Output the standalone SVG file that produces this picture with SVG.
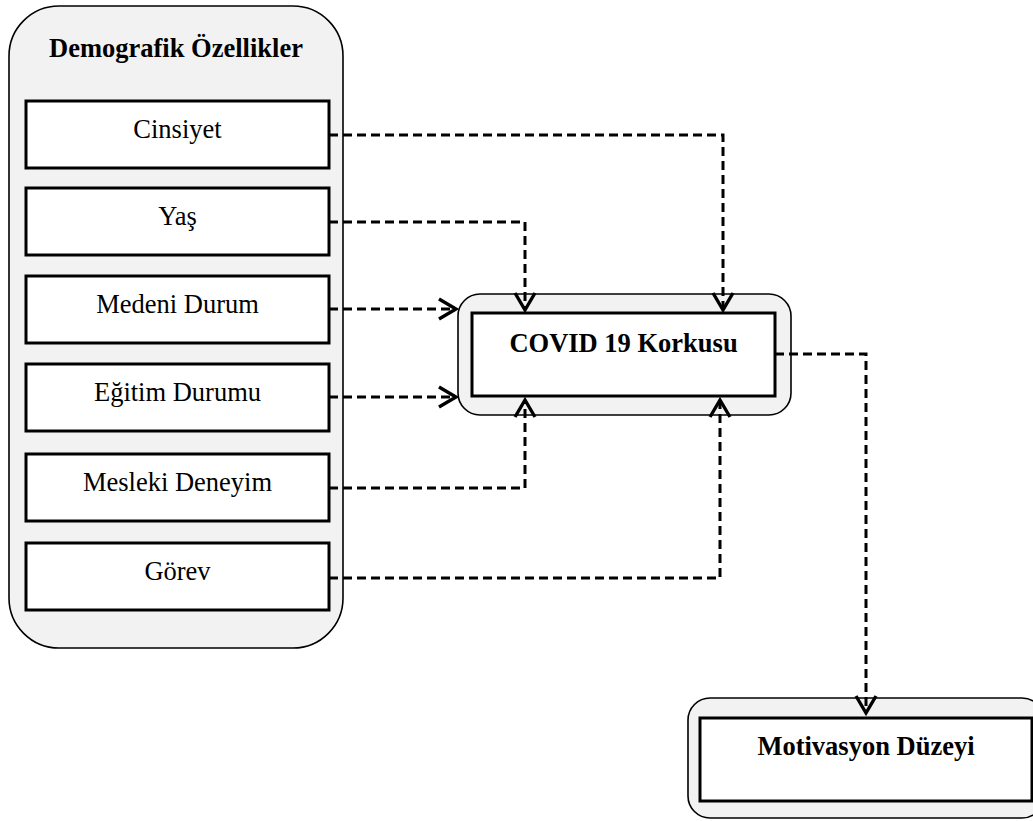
<svg xmlns="http://www.w3.org/2000/svg" width="1033" height="821" viewBox="0 0 1033 821">
<style>
.outer{fill:#f2f2f2;stroke:#000;stroke-width:1.6}
.inner{fill:#fff;stroke:#000;stroke-width:3}
.t{font-family:"Liberation Serif","Times New Roman",serif;font-size:26.5px;text-anchor:middle;fill:#000}
.b{font-weight:bold}
.c{fill:none;stroke:#000;stroke-width:3;stroke-dasharray:9 5;marker-end:url(#ah)}
</style>
<defs>
<marker id="ah" markerUnits="userSpaceOnUse" markerWidth="30" markerHeight="30" viewBox="-24 -15 30 30" refX="0" refY="0" orient="auto" overflow="visible">
<path d="M-17,-10 L0,0 L-17,10" fill="none" stroke="#000" stroke-width="3.4" stroke-linejoin="miter"/>
</marker>
</defs>
<rect width="1033" height="821" fill="#fff"/>
<g id="demografik">
<rect class="outer" x="9" y="6" width="334" height="642" rx="50" ry="50"/>
<text class="t b" x="176" y="57">Demografik Özellikler</text>
</g>
<g id="cinsiyet"><rect class="inner" x="26" y="101" width="303" height="67"/><text class="t" x="177.5" y="138">Cinsiyet</text></g>
<g id="yas"><rect class="inner" x="26" y="188" width="303" height="67"/><text class="t" x="177.5" y="225">Yaş</text></g>
<g id="medeni"><rect class="inner" x="26" y="276" width="303" height="67"/><text class="t" x="177.5" y="313">Medeni Durum</text></g>
<g id="egitim"><rect class="inner" x="26" y="364" width="303" height="67"/><text class="t" x="177.5" y="401">Eğitim Durumu</text></g>
<g id="mesleki"><rect class="inner" x="26" y="454" width="303" height="67"/><text class="t" x="177.5" y="491">Mesleki Deneyim</text></g>
<g id="gorev"><rect class="inner" x="26" y="543" width="303" height="67"/><text class="t" x="177.5" y="580">Görev</text></g>
<g id="covid">
<rect class="outer" x="458" y="294" width="333" height="121" rx="22" ry="22"/>
<rect class="inner" x="472" y="313" width="303" height="83"/>
<text class="t b" x="623.5" y="352">COVID 19 Korkusu</text>
</g>
<g id="motivasyon">
<rect class="outer" x="688" y="698" width="356" height="120" rx="22" ry="22"/>
<rect class="inner" x="700" y="718" width="332" height="83"/>
<text class="t b" x="866" y="755">Motivasyon Düzeyi</text>
</g>
<g id="connectors">
<path class="c" d="M329,135 H723 V310"/>
<path class="c" d="M329,222 H525 V310"/>
<path class="c" d="M329,309 H456"/>
<path class="c" d="M329,397 H456"/>
<path class="c" d="M329,488 H525 V400"/>
<path class="c" d="M329,578 H720 V400"/>
<path class="c" d="M775,354 H866 V713"/>
</g>
</svg>
